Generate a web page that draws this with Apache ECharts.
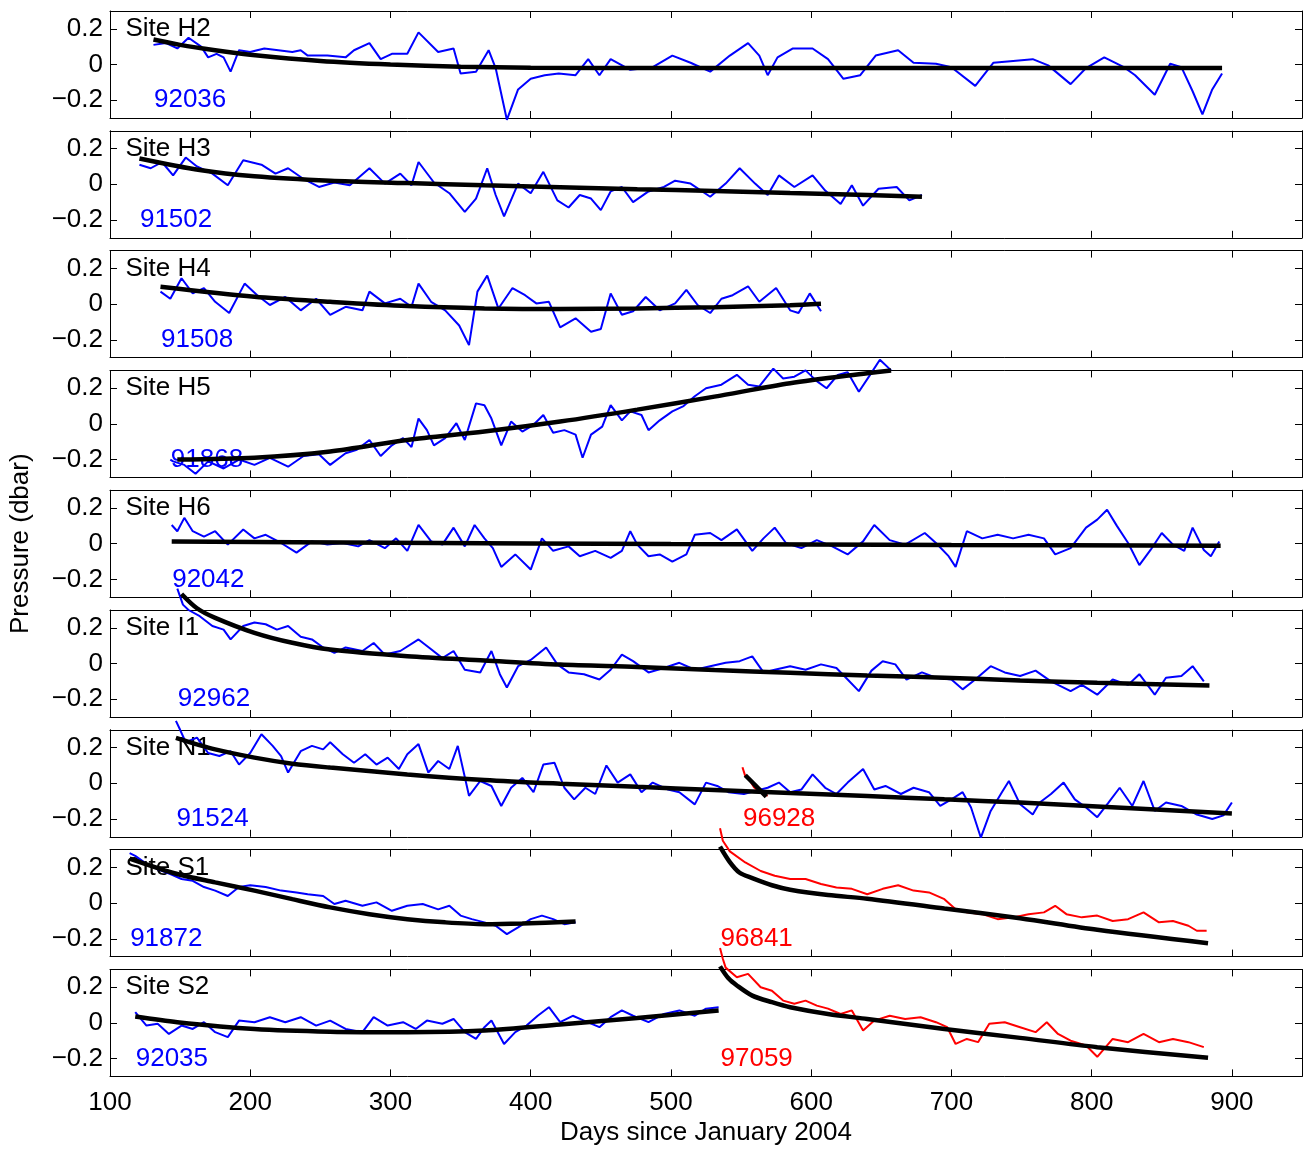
<!DOCTYPE html>
<html>
<head>
<meta charset="utf-8">
<script src="https://cdn.jsdelivr.net/npm/echarts@6/dist/echarts.min.js"></script>
<style>
  html, body { margin: 0; padding: 0; background: #fff; }
  #chart-container { width: 1307px; height: 1149px; }
</style>
</head>
<body>
<div id="chart-container"></div>
<script>
// Panel names and instrument ids
const siteNames = ['Site H2', 'Site H3', 'Site H4', 'Site H5', 'Site H6', 'Site I1', 'Site N1', 'Site S1', 'Site S2'];
const blueIds = ['92036', '91502', '91508', '91868', '92042', '92962', '91524', '91872', '92035'];
const redIds = [null, null, null, null, null, null, '96928', '96841', '97059'];
const yTicks = [-0.2, 0, 0.2];

// Pressure records, [day, dbar]
const h2Blue = [[131,0.11],[140,0.12],[148,0.09],[156,0.15],[165,0.10],[170,0.04],[176,0.06],[181,0.04],[186,-0.04],[192,0.08],[200,0.07],[210,0.09],[220,0.08],[230,0.07],[236,0.08],[241,0.05],[255,0.05],[268,0.04],[274,0.08],[285,0.12],[293,0.03],[301,0.06],[312,0.06],[320,0.18],[334,0.07],[345,0.09],[350,-0.05],[361,-0.04],[370,0.08],[375,-0.02],[383,-0.31],[391,-0.14],[400,-0.08],[410,-0.06],[420,-0.05],[432,-0.06],[441,0.03],[449,-0.06],[457,0.03],[471,-0.03],[487,-0.015],[501,0.05],[514,0.01],[528,-0.04],[542,0.05],[555,0.12],[563,0.05],[569,-0.06],[576,0.04],[587,0.09],[601,0.09],[612,0.03],[623,-0.08],[635,-0.06],[646,0.05],[662,0.08],[673,0.01],[689,0.004],[700,-0.015],[717,-0.12],[730,0.01],[744,0.02],[758,0.03],[769,-0.005],[785,-0.11],[796,-0.02],[809,0.04],[823,-0.015],[831,-0.06],[845,-0.17],[856,0.004],[864,-0.015],[872,-0.15],[879,-0.28],[886,-0.14],[893,-0.05]];
const h3Blue = [[121,0.11],[129,0.09],[137,0.125],[145,0.05],[154,0.15],[162,0.10],[173,0.06],[184,-0.005],[195,0.135],[208,0.11],[218,0.06],[227,0.09],[238,0.03],[249,-0.015],[260,0.01],[271,-0.005],[285,0.09],[296,0.004],[307,0.06],[315,-0.005],[320,0.125],[331,0.01],[342,-0.05],[353,-0.155],[361,-0.08],[369,0.09],[375,-0.06],[381,-0.18],[391,0.004],[400,-0.05],[409,0.07],[419,-0.09],[427,-0.13],[435,-0.06],[443,-0.08],[450,-0.145],[457,-0.04],[465,-0.015],[473,-0.1],[484,-0.04],[495,-0.015],[503,0.02],[514,0.004],[528,-0.07],[539,0.004],[549,0.09],[560,0.004],[569,-0.06],[577,0.05],[588,-0.015],[601,0.05],[610,-0.035],[621,-0.11],[629,-0.005],[637,-0.12],[648,-0.025],[661,-0.015],[670,-0.09],[679,-0.06]];
const h4Blue = [[136,0.07],[143,0.03],[151,0.145],[159,0.06],[167,0.09],[175,0.013],[185,-0.05],[196,0.115],[205,0.05],[214,-0.005],[225,0.04],[236,-0.035],[247,0.03],[257,-0.06],[268,-0.015],[280,-0.035],[285,0.07],[296,0.004],[307,0.03],[315,-0.015],[320,0.115],[329,0.013],[339,-0.035],[349,-0.12],[356,-0.23],[362,0.07],[369,0.16],[377,-0.025],[387,0.09],[396,0.05],[404,0.004],[413,0.013],[421,-0.13],[432,-0.08],[443,-0.155],[450,-0.14],[457,0.06],[465,-0.06],[473,-0.04],[482,0.04],[492,-0.035],[503,0.004],[511,0.08],[519,-0.005],[528,-0.05],[536,0.03],[544,0.05],[555,0.1],[563,0.013],[575,0.09],[585,-0.035],[591,-0.05],[599,0.06],[607,-0.04]];
const h5Blue = [[143,-0.2],[145,-0.21],[153,-0.23],[161,-0.28],[170,-0.21],[181,-0.25],[192,-0.2],[203,-0.23],[214,-0.19],[227,-0.24],[238,-0.18],[249,-0.17],[257,-0.23],[268,-0.165],[276,-0.145],[285,-0.09],[293,-0.18],[301,-0.12],[309,-0.08],[315,-0.13],[320,0.03],[326,-0.035],[331,-0.12],[339,-0.08],[347,0.004],[353,-0.09],[361,0.115],[367,0.105],[372,0.03],[379,-0.12],[386,0.013],[394,-0.043],[402,-0.005],[409,0.05],[416,-0.05],[424,-0.035],[432,-0.06],[437,-0.19],[443,-0.06],[451,-0.015],[457,0.105],[465,0.02],[471,0.07],[479,0.05],[484,-0.035],[492,0.02],[501,0.07],[509,0.1],[517,0.155],[525,0.2],[536,0.22],[547,0.275],[555,0.22],[563,0.21],[573,0.31],[580,0.255],[588,0.265],[596,0.3],[604,0.24],[611,0.2],[619,0.275],[626,0.29],[634,0.18],[642,0.275],[649,0.36],[657,0.3]];
const h6Blue = [[144,0.105],[148,0.07],[153,0.145],[159,0.07],[167,0.04],[175,0.07],[184,-0.005],[195,0.08],[203,0.03],[211,0.05],[222,0.004],[233,-0.05],[244,0.013],[255,-0.005],[266,0.004],[277,-0.015],[285,0.02],[296,-0.025],[304,0.03],[312,-0.04],[320,0.105],[329,0.013],[337,-0.005],[345,0.09],[353,-0.015],[360,0.105],[367,0.03],[373,-0.025],[379,-0.13],[389,-0.06],[400,-0.145],[408,0.03],[416,-0.04],[427,-0.015],[435,-0.07],[446,-0.04],[457,-0.08],[465,-0.04],[471,0.07],[476,-0.005],[484,-0.07],[492,-0.06],[501,-0.1],[511,-0.06],[517,0.05],[528,0.06],[536,0.02],[547,0.08],[558,-0.04],[566,0.03],[574,0.09],[582,0.004],[593,-0.025],[604,0.02],[615,-0.015],[626,-0.06],[637,0.013],[645,0.105],[656,0.02],[667,-0.005],[681,0.06],[689,0.004],[698,-0.07],[703,-0.13],[711,0.07],[722,0.03],[733,0.05],[744,0.03],[755,0.05],[766,0.03],[774,-0.06],[785,-0.025],[796,0.09],[804,0.135],[811,0.19],[818,0.1],[826,0.004],[834,-0.12],[842,-0.035],[850,0.06],[858,-0.005],[866,-0.04],[872,0.09],[880,-0.035],[885,-0.07],[891,0.013]];
const i1Blue = [[148,0.42],[152,0.33],[156,0.3],[164,0.265],[173,0.21],[181,0.19],[186,0.135],[195,0.21],[203,0.23],[211,0.22],[219,0.19],[227,0.21],[236,0.15],[244,0.135],[252,0.09],[260,0.06],[268,0.09],[280,0.07],[288,0.115],[296,0.05],[307,0.07],[320,0.135],[329,0.08],[337,0.03],[345,0.07],[353,-0.035],[364,-0.05],[372,0.07],[378,-0.06],[383,-0.135],[391,-0.015],[400,0.02],[411,0.09],[419,-0.005],[427,-0.05],[438,-0.06],[449,-0.09],[457,-0.035],[465,0.05],[473,0.013],[484,-0.05],[495,-0.025],[506,0.004],[517,-0.035],[528,-0.015],[539,0.004],[549,0.013],[558,0.04],[566,-0.05],[574,-0.035],[585,-0.015],[596,-0.035],[607,-0.005],[618,-0.025],[626,-0.09],[634,-0.155],[643,-0.04],[651,0.013],[660,-0.005],[668,-0.09],[679,-0.05],[689,-0.08],[700,-0.09],[708,-0.145],[717,-0.09],[728,-0.015],[738,-0.05],[749,-0.07],[760,-0.04],[771,-0.1],[785,-0.155],[793,-0.12],[804,-0.175],[815,-0.09],[826,-0.12],[834,-0.06],[845,-0.175],[853,-0.08],[864,-0.07],[872,-0.015],[880,-0.1]];
const n1Blue = [[147,0.35],[150,0.3],[154,0.23],[162,0.256],[170,0.17],[178,0.153],[186,0.18],[192,0.105],[200,0.17],[208,0.275],[216,0.21],[222,0.153],[227,0.06],[236,0.18],[244,0.21],[252,0.19],[257,0.23],[266,0.163],[274,0.115],[282,0.163],[290,0.105],[298,0.144],[306,0.08],[312,0.163],[320,0.22],[327,0.06],[334,0.125],[342,0.08],[348,0.21],[356,-0.07],[364,0.013],[372,-0.015],[379,-0.127],[386,-0.025],[394,0.03],[402,-0.05],[409,0.105],[417,0.115],[424,-0.025],[431,-0.09],[439,-0.025],[446,-0.06],[454,0.1],[462,0.004],[471,0.05],[479,-0.05],[487,0.004],[498,-0.035],[506,-0.05],[517,-0.118],[525,0.004],[533,-0.015],[541,-0.05],[552,-0.06],[560,-0.043],[569,-0.025],[577,0.004],[585,-0.05],[593,-0.035],[601,0.05],[610,-0.025],[618,-0.06],[626,0.004],[637,0.08],[645,-0.035],[653,-0.015],[664,-0.06],[673,-0.025],[684,-0.05],[692,-0.127],[700,-0.09],[708,-0.05],[714,-0.136],[721,-0.305],[728,-0.155],[736,-0.05],[741,0.013],[749,-0.118],[758,-0.175],[763,-0.108],[771,-0.06],[780,0.004],[788,-0.09],[796,-0.136],[804,-0.19],[812,-0.108],[820,-0.025],[829,-0.127],[837,0.013],[845,-0.155],[853,-0.108],[864,-0.127],[875,-0.175],[886,-0.2],[894,-0.18],[900,-0.108]];
const s1Blue = [[114,0.28],[118,0.265],[126,0.22],[134,0.19],[143,0.163],[151,0.135],[159,0.125],[167,0.09],[175,0.07],[184,0.04],[192,0.09],[200,0.1],[211,0.09],[222,0.07],[233,0.06],[241,0.05],[252,0.04],[260,-0.005],[268,0.013],[280,-0.015],[290,0.004],[301,-0.043],[312,-0.015],[323,-0.005],[334,-0.035],[342,-0.015],[350,-0.07],[358,-0.09],[367,-0.108],[375,-0.127],[383,-0.174],[391,-0.136],[400,-0.09],[408,-0.07],[416,-0.09],[424,-0.118],[432,-0.108]];
const s2Blue = [[118,0.06],[126,-0.015],[134,-0.005],[142,-0.062],[151,-0.015],[159,-0.034],[167,0.004],[175,-0.052],[184,-0.08],[192,0.013],[203,0.004],[214,0.032],[225,0.004],[236,0.032],[247,-0.015],[257,0.013],[268,-0.034],[280,-0.052],[288,0.032],[298,-0.015],[309,0.004],[318,-0.034],[326,0.013],[337,-0.005],[345,0.022],[353,-0.052],[361,-0.09],[367,-0.024],[372,0.013],[381,-0.118],[389,-0.052],[397,-0.015],[405,0.04],[413,0.088],[421,0.004],[430,0.04],[438,0.013],[449,-0.024],[457,0.032],[465,0.07],[473,0.04],[484,0.004],[495,0.05],[506,0.07],[517,0.04],[525,0.08],[534,0.088]];

// Second instruments (red)
const n1Red = [[551,0.09],[553,0.04],[556,0.02],[559,-0.02],[562,-0.04],[566,-0.06],[569,-0.07]];
const s1Red = [[535,0.42],[537,0.35],[542,0.29],[553,0.228],[564,0.18],[574,0.153],[585,0.135],[596,0.135],[607,0.107],[618,0.088],[629,0.08],[640,0.05],[651,0.08],[662,0.1],[673,0.07],[684,0.06],[695,0.022],[703,-0.035],[711,-0.052],[722,-0.062],[733,-0.09],[744,-0.08],[755,-0.062],[766,-0.052],[774,-0.015],[782,-0.062],[793,-0.08],[804,-0.07],[815,-0.1],[826,-0.09],[837,-0.052],[848,-0.108],[858,-0.1],[869,-0.127],[875,-0.155],[882,-0.155]];
const s2Red = [[535,0.42],[537,0.36],[539,0.31],[547,0.256],[555,0.275],[564,0.2],[572,0.18],[580,0.125],[588,0.107],[596,0.125],[604,0.097],[612,0.08],[621,0.05],[629,0.07],[637,-0.043],[645,0.013],[656,0.04],[667,0.022],[678,0.032],[689,0.004],[697,-0.024],[703,-0.118],[711,-0.09],[719,-0.108],[727,-0.005],[738,0.004],[749,-0.024],[760,-0.052],[768,0.004],[776,-0.062],[785,-0.1],[796,-0.127],[804,-0.19],[815,-0.09],[826,-0.108],[837,-0.062],[848,-0.108],[858,-0.09],[869,-0.108],[880,-0.136]];

// Fitted curves (black)
const h2Fit = [[131,0.14],[150,0.11],[175,0.08],[200,0.055],[250,0.02],[300,0.0],[350,-0.012],[400,-0.018],[500,-0.02],[600,-0.02],[700,-0.02],[800,-0.02],[893,-0.02]];
const h3Fit = [[121,0.145],[164,0.08],[203,0.045],[257,0.02],[312,0.007],[367,-0.006],[421,-0.017],[476,-0.028],[531,-0.037],[585,-0.049],[640,-0.06],[679,-0.07]];
const h4Fit = [[136,0.097],[203,0.041],[257,0.013],[312,-0.011],[367,-0.024],[421,-0.028],[476,-0.024],[531,-0.017],[585,-0.006],[607,0.002]];
const h5Fit = [[148,-0.2],[203,-0.19],[257,-0.155],[312,-0.09],[367,-0.043],[421,0.013],[476,0.08],[531,0.153],[585,0.228],[640,0.284],[657,0.3]];
const h6Fit = [[144,0.012],[300,0.005],[500,-0.002],[700,-0.007],[892,-0.011]];
const i1Fit = [[151,0.39],[162,0.31],[175,0.256],[203,0.172],[230,0.116],[257,0.078],[312,0.041],[367,0.017],[421,-0.006],[476,-0.02],[531,-0.037],[585,-0.052],[640,-0.067],[695,-0.08],[749,-0.095],[804,-0.108],[884,-0.123]];
const n1Fit = [[147,0.255],[175,0.19],[203,0.144],[230,0.11],[257,0.088],[312,0.05],[367,0.019],[421,-0.002],[476,-0.02],[531,-0.037],[585,-0.054],[640,-0.071],[695,-0.09],[749,-0.108],[804,-0.13],[900,-0.17]];
const s1Fit = [[114,0.25],[148,0.163],[175,0.116],[203,0.07],[230,0.022],[257,-0.024],[285,-0.062],[312,-0.09],[339,-0.108],[367,-0.118],[394,-0.114],[432,-0.103]];
const s2Fit = [[118,0.036],[148,0.004],[203,-0.034],[257,-0.049],[312,-0.052],[367,-0.043],[421,-0.009],[476,0.028],[534,0.07]];
const n1RedFit = [[553,0.045],[560,-0.01],[568,-0.075]];
const s1RedFit = [[535,0.317],[542,0.23],[549,0.17],[558,0.14],[572,0.1],[585,0.075],[612,0.045],[640,0.025],[695,-0.03],[749,-0.085],[804,-0.15],[883,-0.225]];
const s2RedFit = [[535,0.317],[541,0.25],[547,0.21],[558,0.153],[572,0.116],[585,0.088],[612,0.05],[640,0.022],[695,-0.034],[749,-0.084],[804,-0.136],[883,-0.196]];

const blueData = [h2Blue, h3Blue, h4Blue, h5Blue, h6Blue, i1Blue, n1Blue, s1Blue, s2Blue];
const fitData = [h2Fit, h3Fit, h4Fit, h5Fit, h6Fit, i1Fit, n1Fit, s1Fit, s2Fit];
const redData = [null, null, null, null, null, null, n1Red, s1Red, s2Red];
const redFitData = [null, null, null, null, null, null, n1RedFit, s1RedFit, s2RedFit];

const FONT = 'Liberation Sans';
const FONT_SIZE = 26;
const chart = echarts.init(document.getElementById('chart-container'));

const grids = [], xAxes = [], yAxes = [], series = [];
const tickStyle = { inside: true, length: 7, lineStyle: { color: '#000', width: 1 } };
const lineAxis = { show: true, onZero: false, lineStyle: { color: '#000', width: 1 } };

siteNames.forEach((name, k) => {
    grids.push({ left: 110, right: 5, top: 11 + k * 119.8, height: 107 });
    const last = k === siteNames.length - 1;
    // bottom and top x axes
    xAxes.push({
        gridIndex: k, type: 'value', min: 100, max: 950, interval: 100, position: 'bottom',
        axisLine: lineAxis, axisTick: tickStyle, splitLine: { show: false },
        axisLabel: { show: last, showMaxLabel: false, margin: 13, color: '#000', fontSize: FONT_SIZE, fontFamily: FONT },
        name: last ? 'Days since January 2004' : '', nameLocation: 'middle', nameGap: 43,
        nameTextStyle: { color: '#000', fontSize: FONT_SIZE, fontFamily: FONT }
    });
    xAxes.push({
        gridIndex: k, type: 'value', min: 100, max: 950, interval: 100, position: 'top',
        axisLine: lineAxis, axisTick: tickStyle, splitLine: { show: false }, axisLabel: { show: false }
    });
    // left and right y axes
    yAxes.push({
        gridIndex: k, type: 'value', min: -0.3, max: 0.3, position: 'left',
        axisLine: lineAxis, splitLine: { show: false },
        axisTick: Object.assign({ customValues: yTicks }, tickStyle),
        axisLabel: {
            customValues: yTicks, margin: 7, color: '#000', fontSize: FONT_SIZE, fontFamily: FONT,
            formatter: v => v < 0 ? '\u2212' + Math.abs(v) : String(v)
        },
        name: k === 4 ? 'Pressure (dbar)' : '', nameLocation: 'middle', nameGap: 76, nameRotate: 90,
        nameTextStyle: { color: '#000', fontSize: FONT_SIZE, fontFamily: FONT }
    });
    yAxes.push({
        gridIndex: k, type: 'value', min: -0.3, max: 0.3, position: 'right',
        axisLine: lineAxis, splitLine: { show: false },
        axisTick: Object.assign({ customValues: yTicks }, tickStyle),
        axisLabel: { show: false }
    });

    const xi = 2 * k, yi = 2 * k;
    // text placed in data space, under the lines
    const textSeries = (point, text, color, dist) => ({
        type: 'scatter', xAxisIndex: xi, yAxisIndex: yi, data: [point], symbolSize: 1,
        itemStyle: { color: 'rgba(0,0,0,0)', opacity: 1 }, silent: true, z: 1,
        label: { show: true, position: 'right', distance: dist, formatter: text, color: color, opacity: 1, fontSize: FONT_SIZE, fontFamily: FONT }
    });
    const lineSeries = (data, color, width, z, smooth) => ({
        type: 'line', xAxisIndex: xi, yAxisIndex: yi, data: data, showSymbol: false, clip: false,
        smooth: smooth, lineStyle: { color: color, width: width, opacity: 1 }, z: z, silent: true
    });

    // labels
    series.push(textSeries([100, 0.2], name, '#000', 15));
    series.push(textSeries([blueData[k][0][0], -0.2], blueIds[k], '#0000ff', 0));
    if (redData[k]) series.push(textSeries([redData[k][0][0], -0.2], redIds[k], '#ff0000', 0));

    // data and fits
    series.push(lineSeries(blueData[k], '#0000ff', 2, 2, false));
    if (redData[k]) series.push(lineSeries(redData[k], '#ff0000', 2, 2, false));
    series.push(lineSeries(fitData[k], '#000', 4.5, 3, 0.3));
    if (redFitData[k]) series.push(lineSeries(redFitData[k], '#000', 4.5, 3, 0.3));
});

chart.setOption({
    animation: false,
    backgroundColor: '#fff',
    grid: grids,
    xAxis: xAxes,
    yAxis: yAxes,
    series: series
});
</script>
</body>
</html>
